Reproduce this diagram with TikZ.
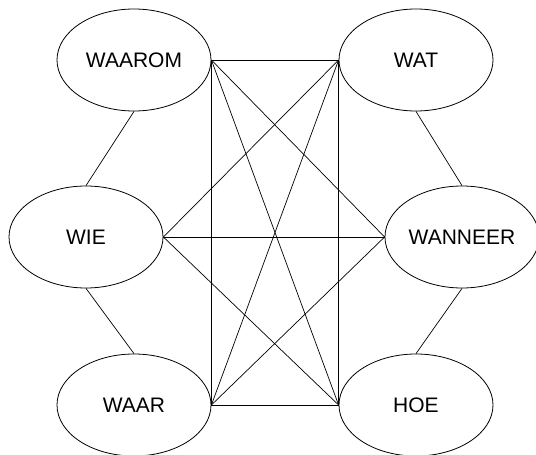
\documentclass[tikz,border=0pt]{standalone}
\usepackage{fontspec}
\setmainfont{Liberation Sans}
\usetikzlibrary{shapes.geometric}
\begin{document}
\begin{tikzpicture}[x=1pt,y=-1pt,
  oval/.style={ellipse,draw,line width=0.8pt,minimum width=154pt,minimum height=102pt,inner sep=0pt,font=\fontsize{21}{24}\selectfont},
  conn/.style={line width=0.7pt}]
\useasboundingbox (0,0) rectangle (536,455);
\node[oval] (waarom) at (134,60) {WAAROM};
\node[oval] (wie) at (86,237) {WIE};
\node[oval] (waar) at (134,405) {WAAR};
\node[oval] (wat) at (416,60) {WAT};
\node[oval] (wanneer) at (462,237) {WANNEER};
\node[oval] (hoe) at (416,405) {HOE};
\draw[conn] (waarom.south) -- (wie.north);
\draw[conn] (wie.south) -- (waar.north);
\draw[conn] (wat.south) -- (wanneer.north);
\draw[conn] (wanneer.south) -- (hoe.north);
\draw[conn] (waarom.east) -- (wat.west);
\draw[conn] (waar.east) -- (hoe.west);
\draw[conn] (waarom.east) -- (waar.east);
\draw[conn] (wat.west) -- (hoe.west);
\draw[conn] (waarom.east) -- (hoe.west);
\draw[conn] (waarom.east) -- (wanneer.west);
\draw[conn] (wie.east) -- (wat.west);
\draw[conn] (wie.east) -- (wanneer.west);
\draw[conn] (wie.east) -- (hoe.west);
\draw[conn] (waar.east) -- (wat.west);
\draw[conn] (waar.east) -- (wanneer.west);
\end{tikzpicture}
\end{document}
